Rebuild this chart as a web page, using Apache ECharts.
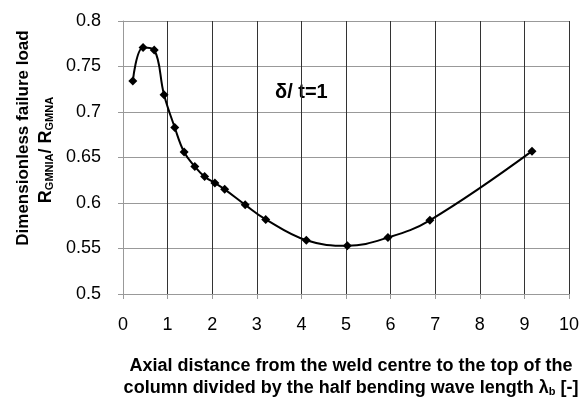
<!DOCTYPE html>
<html>
<head>
<meta charset="utf-8">
<script src="https://cdn.jsdelivr.net/npm/echarts@6/dist/echarts.min.js"></script>
<style>
  html, body { margin: 0; padding: 0; background: #fff; }
  #chart { width: 583px; height: 397px; }
</style>
</head>
<body>
<div id="chart"></div>
<script>
// distance / half wave length
const xValues = [0.22, 0.45, 0.70, 0.92, 1.16, 1.37, 1.61, 1.83, 2.06, 2.28, 2.74, 3.20, 4.11, 5.03, 5.94, 6.88, 9.17]
// R_GMNIA / R_GMNA
const yValues = [0.734, 0.771, 0.768, 0.719, 0.683, 0.656, 0.640, 0.629, 0.622, 0.615, 0.598, 0.582, 0.559, 0.553, 0.562, 0.581, 0.657]
const xTicks = { min: 0, max: 10, count: 10 }
const yTicks = { min: 0.5, max: 0.8, count: 6 }

const font = '"Liberation Sans", Arial, sans-serif'
const chart = echarts.init(document.getElementById('chart'))

chart.setOption({
  animation: false,
  grid: { left: 123, right: 14, top: 21, bottom: 103 },
  xAxis: {
    type: 'value',
    min: xTicks.min,
    max: xTicks.max,
    splitNumber: xTicks.count,
    axisLine: { lineStyle: { color: '#999', width: 1 } },
    axisTick: { show: true, length: 5, lineStyle: { color: '#999' } },
    axisLabel: { color: '#000', fontSize: 18, fontFamily: font, margin: 22 },
    splitLine: { show: true, lineStyle: { color: '#333', width: 1 } }
  },
  yAxis: {
    type: 'value',
    min: yTicks.min,
    max: yTicks.max,
    splitNumber: yTicks.count,
    axisLine: { show: true, lineStyle: { color: '#999', width: 1 } },
    axisTick: { show: true, length: 5, lineStyle: { color: '#999' } },
    axisLabel: { color: '#000', fontSize: 18, fontFamily: font, margin: 22 },
    splitLine: { show: true, lineStyle: { color: '#999', width: 1 } }
  },
  series: [{
    type: 'line',
    data: xValues.map((x, i) => [x, yValues[i]]),
    smooth: 0.4,
    symbol: 'diamond',
    symbolSize: 9,
    lineStyle: { color: '#000', width: 2 },
    itemStyle: { color: '#000' }
  }],
  graphic: [
    {
      type: 'text',
      x: 275, y: 92,
      style: { text: 'δ/ t=1', font: 'bold 20px ' + font, fill: '#000', textVerticalAlign: 'middle' }
    },
    {
      type: 'text',
      x: 23, y: 138,
      rotation: Math.PI / 2,
      style: { text: 'Dimensionless failure load', font: 'bold 17px ' + font, fill: '#000', textAlign: 'center', textVerticalAlign: 'middle' }
    },
    {
      type: 'text',
      x: 46, y: 150,
      rotation: Math.PI / 2,
      style: {
        text: '{b|R}{s|GMNIA}{b|/ R}{s|GMNA}',
        textAlign: 'center',
        textVerticalAlign: 'middle',
        rich: {
          b: { font: 'bold 18px ' + font, fill: '#000', lineHeight: 22 },
          s: { font: 'bold 11px ' + font, fill: '#000', lineHeight: 22, padding: [8, 0, 0, 0] }
        }
      }
    },
    {
      type: 'text',
      x: 351, y: 366,
      style: { text: 'Axial distance from the weld centre to the top of the', font: 'bold 18px ' + font, fill: '#000', textAlign: 'center', textVerticalAlign: 'middle' }
    },
    {
      type: 'text',
      x: 351, y: 388,
      style: {
        text: '{b|column divided by the half bending wave length λ}{s|b}{b| [-]}',
        textAlign: 'center',
        textVerticalAlign: 'middle',
        rich: {
          b: { font: 'bold 18px ' + font, fill: '#000', lineHeight: 20 },
          s: { font: 'bold 11px ' + font, fill: '#000', lineHeight: 20, padding: [7, 0, 0, 0] }
        }
      }
    }
  ]
})
</script>
</body>
</html>
